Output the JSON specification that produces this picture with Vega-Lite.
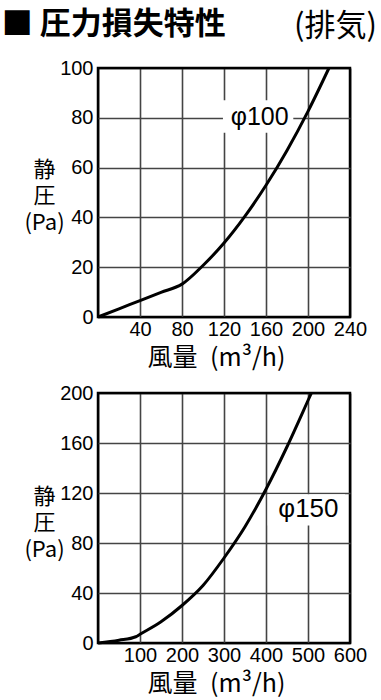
{
  "$schema": "https://vega.github.io/schema/vega-lite/v6.json",
  "background": "white",
  "padding": {"left": 1, "top": 8, "right": 5, "bottom": 5},
  "title": {
    "text": "■ 圧力損失特性",
    "anchor": "start",
    "font": "Noto Sans CJK JP",
    "fontSize": 31,
    "fontWeight": "bold",
    "color": "black",
    "dx": -21,
    "offset": -31
  },
  "datasets": {
    "c100": [
      {"x": 0, "y": 0}, {"x": 20, "y": 3.3}, {"x": 40, "y": 6.6}, {"x": 60, "y": 9.9},
      {"x": 80, "y": 13.2}, {"x": 100, "y": 20.7}, {"x": 120, "y": 29.7}, {"x": 140, "y": 40.5},
      {"x": 160, "y": 52.9}, {"x": 180, "y": 66.9}, {"x": 200, "y": 82.6}, {"x": 220, "y": 100}
    ],
    "c150": [
      {"x": 0, "y": 0}, {"x": 50, "y": 2.2}, {"x": 90, "y": 5}, {"x": 100, "y": 7},
      {"x": 150, "y": 17}, {"x": 200, "y": 30}, {"x": 250, "y": 46}, {"x": 300, "y": 68},
      {"x": 350, "y": 93}, {"x": 400, "y": 123}, {"x": 450, "y": 157}, {"x": 500, "y": 194},
      {"x": 508, "y": 200}
    ],
    "l100": [{"x": 154, "y": 80.5, "x2": 119, "y2": 87, "xa": 186, "ya": 74, "t": "φ100"}],
    "l150": [{"x": 501, "y": 107.5, "x2": 404, "y2": 119, "xa": 588, "ya": 94, "t": "φ150"}]
  },
  "vconcat": [
    {
      "width": 252,
      "height": 249,
      "title": {
        "text": "(排気)",
        "anchor": "end",
        "frame": "group",
        "font": "Noto Sans CJK JP",
        "fontSize": 31,
        "fontWeight": "normal",
        "color": "black",
        "dx": 27,
        "offset": 15
      },
      "layer": [
        {
          "data": {"name": "l100"},
          "mark": {"type": "rect", "color": "white"},
          "encoding": {
            "x": {"field": "x2", "type": "quantitative", "title": "風量\u2002(m³/h)",
              "scale": {"domain": [0, 240], "nice": false, "zero": true},
              "axis": {
                "values": [0, 20, 40, 60, 80, 100, 120, 140, 160, 180, 200, 220, 240],
                "labelExpr": "datum.value % 40 == 0 && datum.value > 0 ? datum.label : ''",
                "labelFlush": false, "labelOverlap": false, "labelPadding": 2,
                "titleX": 118, "titleY": 28, "titleAlign": "center", "titleBaseline": "top",
                "gridColor": {"condition": {"test": "datum.value == 0 || datum.value == 240", "value": "black"}, "value": "#444"}
              }
            },
            "x2": {"field": "xa"},
            "y": {"field": "y2", "type": "quantitative", "title": ["静", "圧", "(Pa)"],
              "scale": {"domain": [0, 100], "nice": false},
              "axis": {
                "values": [0, 10, 20, 30, 40, 50, 60, 70, 80, 90, 100],
                "labelExpr": "datum.value % 20 == 0 ? datum.label : ''",
                "labelOverlap": false, "labelPadding": 5,
                "titleAngle": 0, "titleAlign": "center", "titleBaseline": "top",
                "titleX": -54, "titleY": 91, "titleLineHeight": 26.5, "titleFontSize": 22,
                "gridColor": {"condition": {"test": "datum.value == 0 || datum.value == 100", "value": "black"}, "value": "#444"}
              }
            },
            "y2": {"field": "ya"}
          }
        },
        {
          "data": {"name": "c100"},
          "mark": {"type": "line", "color": "black", "strokeWidth": 3, "interpolate": "monotone"},
          "encoding": {
            "x": {"field": "x", "type": "quantitative"},
            "y": {"field": "y", "type": "quantitative"}
          }
        },
        {
          "data": {"name": "l100"},
          "mark": {"type": "text", "font": "Liberation Sans", "fontSize": 25, "color": "black"},
          "encoding": {
            "x": {"field": "x", "type": "quantitative"},
            "y": {"field": "y", "type": "quantitative"},
            "text": {"field": "t"}
          }
        }
      ]
    },
    {
      "width": 252,
      "height": 250,
      "layer": [
        {
          "data": {"name": "l150"},
          "mark": {"type": "rect", "color": "white"},
          "encoding": {
            "x": {"field": "x2", "type": "quantitative", "title": "風量\u2002(m³/h)",
              "scale": {"domain": [0, 600], "nice": false},
              "axis": {
                "values": [0, 50, 100, 150, 200, 250, 300, 350, 400, 450, 500, 550, 600],
                "labelExpr": "datum.value % 100 == 0 && datum.value > 0 ? datum.label : ''",
                "labelFlush": false, "labelOverlap": false, "labelPadding": 2,
                "titleX": 118, "titleY": 28, "titleAlign": "center", "titleBaseline": "top",
                "gridColor": {"condition": {"test": "datum.value == 0 || datum.value == 600", "value": "black"}, "value": "#444"}
              }
            },
            "x2": {"field": "xa"},
            "y": {"field": "y2", "type": "quantitative", "title": ["静", "圧", "(Pa)"],
              "scale": {"domain": [0, 200], "nice": false},
              "axis": {
                "values": [0, 20, 40, 60, 80, 100, 120, 140, 160, 180, 200],
                "labelExpr": "datum.value % 40 == 0 ? datum.label : ''",
                "labelOverlap": false, "labelPadding": 5,
                "titleAngle": 0, "titleAlign": "center", "titleBaseline": "top",
                "titleX": -54, "titleY": 93, "titleLineHeight": 26.5, "titleFontSize": 22,
                "gridColor": {"condition": {"test": "datum.value == 0 || datum.value == 200", "value": "black"}, "value": "#444"}
              }
            },
            "y2": {"field": "ya"}
          }
        },
        {
          "data": {"name": "c150"},
          "mark": {"type": "line", "color": "black", "strokeWidth": 3, "interpolate": "monotone"},
          "encoding": {
            "x": {"field": "x", "type": "quantitative"},
            "y": {"field": "y", "type": "quantitative"}
          }
        },
        {
          "data": {"name": "l150"},
          "mark": {"type": "text", "font": "Liberation Sans", "fontSize": 26, "color": "black"},
          "encoding": {
            "x": {"field": "x", "type": "quantitative"},
            "y": {"field": "y", "type": "quantitative"},
            "text": {"field": "t"}
          }
        }
      ]
    }
  ],
  "spacing": 9,
  "config": {
    "view": {"stroke": "black", "strokeWidth": 2.5},
    "axis": {
      "grid": true, "gridWidth": 1.6, "gridOpacity": 1,
      "ticks": false, "domain": false,
      "labelFont": "Liberation Sans",
      "labelFontSize": 20, "labelColor": "black",
      "titleFont": "Noto Sans CJK JP", "titleFontSize": 25, "titleFontWeight": "normal", "titleColor": "black"
    }
  }
}
